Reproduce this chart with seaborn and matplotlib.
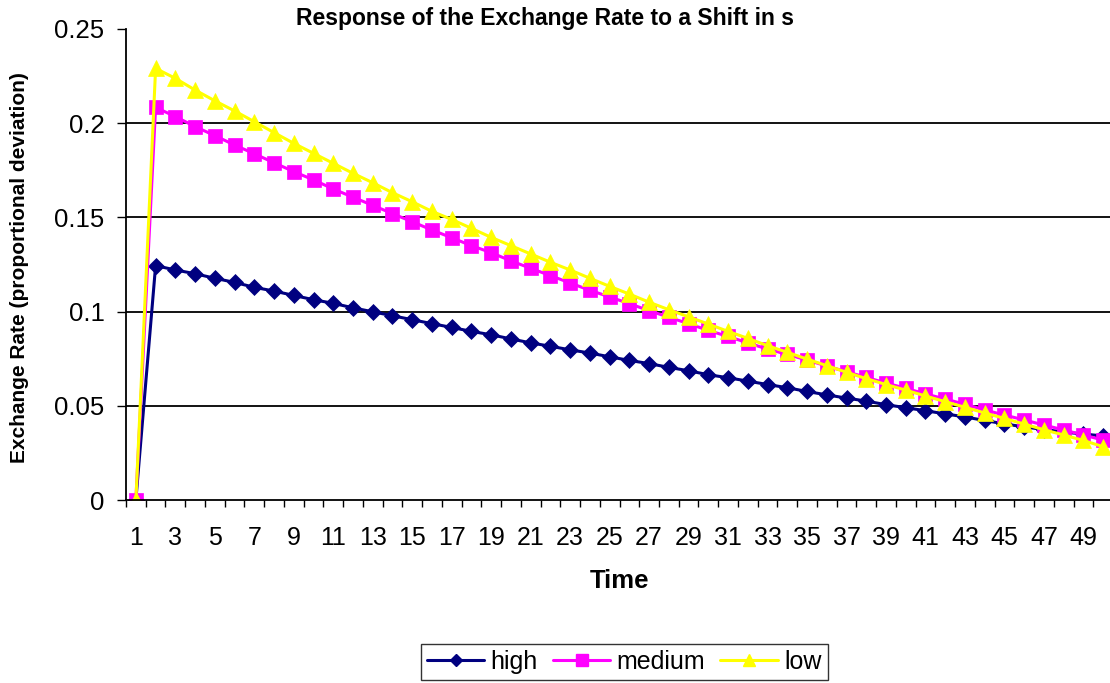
import seaborn as sns
import matplotlib.pyplot as plt
import pandas as pd
from matplotlib.lines import Line2D

time = list(range(1, 51))

high = [0, 0.1244, 0.1221, 0.1201, 0.1177, 0.1155, 0.1129, 0.1109, 0.1086, 0.1063,
        0.1044, 0.1020, 0.0999, 0.0978, 0.0957, 0.0936, 0.0916, 0.0895, 0.0877, 0.0855,
        0.0834, 0.0816, 0.0797, 0.0780, 0.0760, 0.0741, 0.0724, 0.0704, 0.0686, 0.0665,
        0.0649, 0.0631, 0.0613, 0.0596, 0.0576, 0.0558, 0.0541, 0.0525, 0.0506, 0.0490,
        0.0474, 0.0457, 0.0441, 0.0422, 0.0404, 0.0388, 0.0374, 0.0361, 0.0350, 0.0340]

medium = [0, 0.2084, 0.2035, 0.1982, 0.1934, 0.1884, 0.1838, 0.1790, 0.1743, 0.1699,
          0.1651, 0.1607, 0.1564, 0.1520, 0.1477, 0.1433, 0.1392, 0.1350, 0.1313, 0.1269,
          0.1230, 0.1191, 0.1152, 0.1113, 0.1078, 0.1042, 0.1005, 0.0970, 0.0936, 0.0900,
          0.0868, 0.0834, 0.0801, 0.0773, 0.0743, 0.0711, 0.0681, 0.0651, 0.0621, 0.0593,
          0.0563, 0.0536, 0.0508, 0.0478, 0.0451, 0.0425, 0.0398, 0.0372, 0.0345, 0.0318]

low = [0, 0.2291, 0.2238, 0.2176, 0.2119, 0.2065, 0.2008, 0.1950, 0.1893, 0.1840,
       0.1787, 0.1734, 0.1684, 0.1631, 0.1583, 0.1532, 0.1489, 0.1442, 0.1394, 0.1350,
       0.1306, 0.1262, 0.1221, 0.1177, 0.1134, 0.1093, 0.1050, 0.1010, 0.0972, 0.0934,
       0.0895, 0.0858, 0.0819, 0.0784, 0.0748, 0.0713, 0.0678, 0.0644, 0.0613, 0.0583,
       0.0552, 0.0522, 0.0492, 0.0462, 0.0433, 0.0403, 0.0373, 0.0345, 0.0316, 0.0283]

series_names = ['high', 'medium', 'low']
colors = {'high': '#000080', 'medium': '#FF00FF', 'low': '#FFFF00'}
markers = {'high': 'D', 'medium': 's', 'low': '^'}
msizes = {'high': 7.8, 'medium': 10, 'low': 11.5}

yticks = [0, 0.05, 0.1, 0.15, 0.2, 0.25]
ytick_labels = ['0', '0.05', '0.1', '0.15', '0.2', '0.25']

df = pd.DataFrame({'Time': time, 'high': high, 'medium': medium, 'low': low})
long = df.melt(id_vars='Time', var_name='series', value_name='value')

sns.set_style('white')
plt.rcParams['font.family'] = ['Liberation Sans', 'DejaVu Sans']
plt.rcParams['text.color'] = 'black'
plt.rcParams['axes.labelcolor'] = 'black'
plt.rcParams['xtick.color'] = 'black'
plt.rcParams['ytick.color'] = 'black'

W, H = 1110, 683
fig = plt.figure(figsize=(W / 100, H / 100), dpi=100)
ax_left, ax_right, ax_top, ax_bottom = 126, 1113, 29, 500
ax = fig.add_axes([ax_left / W, 1 - ax_bottom / H, (ax_right - ax_left) / W, (ax_bottom - ax_top) / H])

for y in yticks[1:-1]:
    ax.axhline(y, color='black', linewidth=1.3, zorder=0)

for name in series_names:
    sub = long[long['series'] == name]
    sns.lineplot(data=sub, x='Time', y='value', ax=ax, color=colors[name],
                 marker=markers[name], markersize=msizes[name],
                 markeredgecolor=colors[name], markeredgewidth=0.5,
                 linewidth=2.2, legend=False)

ax.set_xlim(0.5, 50.5)
ax.set_ylim(0, 0.25)

ax.set_yticks(yticks)
ax.set_yticklabels(ytick_labels, fontsize=18.5)
ax.set_xticks(time[::2])
ax.set_xticklabels([str(t) for t in time[::2]], fontsize=18)
ax.set_xticks([t - 0.5 for t in time] + [50.5], minor=True)
ax.tick_params(axis='y', which='major', direction='out', length=6.5, width=1, color='black', pad=9, left=True)
ax.tick_params(axis='x', which='major', length=0, pad=19, bottom=True)
ax.tick_params(axis='x', which='minor', direction='out', length=5, width=1, color='black', bottom=True)

for s in ['top', 'right']:
    ax.spines[s].set_visible(False)
for s in ['left', 'bottom']:
    ax.spines[s].set_color('black')
    ax.spines[s].set_linewidth(1.3)

ax.set_xlabel('Time', fontsize=18.5, fontweight='bold')
ax.xaxis.set_label_coords(0.5, -0.172)
ax.xaxis.label.set_va('center')
ax.set_ylabel('Exchange Rate (proportional deviation)', fontsize=15, fontweight='bold')
ax.yaxis.set_label_coords(-0.1074, 0.4926)
ax.yaxis.label.set_va('center')

fig.text(545 / W, 1 - 18 / H, 'Response of the Exchange Rate to a Shift in s',
         ha='center', va='center', fontsize=16.5, fontweight='bold')

handles = [Line2D([], [], color=colors[n], marker=markers[n], markersize=msizes[n] * 0.8,
                  markeredgecolor=colors[n], linewidth=2.2) for n in series_names]
leg = fig.legend(handles, series_names, loc='center', bbox_to_anchor=(624 / W, 1 - 662 / H),
                 ncol=3, fontsize=18, frameon=True, fancybox=False, handlelength=2.3,
                 handletextpad=0.25, columnspacing=0.6, borderpad=0.25)
leg.get_frame().set_edgecolor('black')
leg.get_frame().set_linewidth(1)

fig.savefig('out.png', dpi=100)
